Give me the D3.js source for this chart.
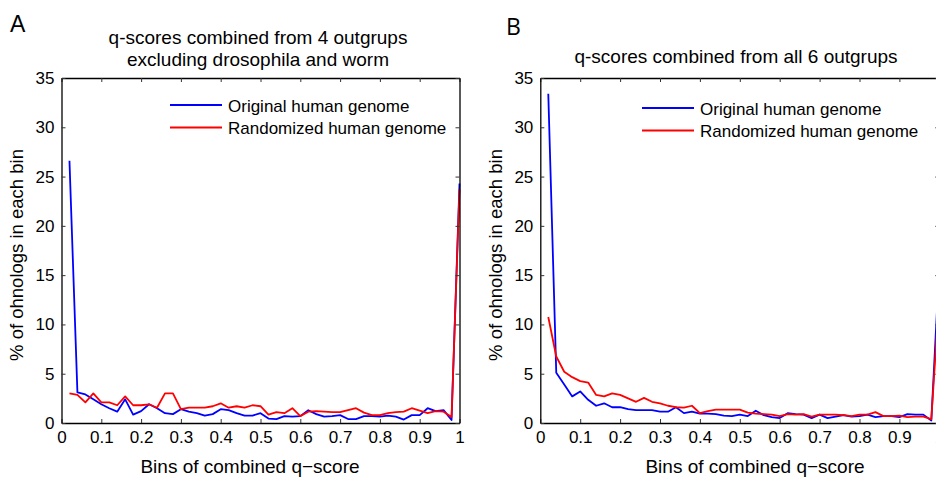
<!DOCTYPE html>
<html><head><meta charset="utf-8">
<script src="https://cdn.jsdelivr.net/npm/d3@7/dist/d3.min.js"></script>
<style>body{margin:0;background:#fff}svg{display:block}text{font-family:"Liberation Sans",Arial,sans-serif;fill:#000}</style>
</head><body><svg id="c" width="936" height="479"></svg>
<script>
const bins = [0.02,0.04,0.06,0.08,0.10,0.12,0.14,0.16,0.18,0.20,0.22,0.24,0.26,0.28,0.30,0.32,0.34,0.36,0.38,0.40,0.42,0.44,0.46,0.48,0.50,0.52,0.54,0.56,0.58,0.60,0.62,0.64,0.66,0.68,0.70,0.72,0.74,0.76,0.78,0.80,0.82,0.84,0.86,0.88,0.90,0.92,0.94,0.96,0.98,1.00];
const origA = [26.6,3.1,2.9,2.4,1.9,1.5,1.15,2.4,0.85,1.2,1.9,1.5,1.0,0.9,1.4,1.15,1.0,0.75,0.9,1.4,1.3,1.0,0.75,0.75,1.0,0.45,0.4,0.7,0.65,0.7,1.3,0.9,0.65,0.7,0.8,0.4,0.4,0.7,0.7,0.65,0.75,0.65,0.35,0.8,0.8,1.5,1.2,1.3,0.3,24.3];
const randA = [3.0,2.85,2.1,3.0,2.1,2.1,1.8,2.7,1.8,1.8,1.9,1.55,3.0,3.0,1.4,1.55,1.55,1.55,1.7,2.0,1.55,1.7,1.55,1.8,1.7,0.85,1.1,1.0,1.5,0.7,1.15,1.2,1.15,1.1,1.1,1.3,1.5,1.05,0.8,0.8,1.0,1.1,1.15,1.5,1.25,1.0,1.2,1.15,0.6,23.7];
const origB = [33.4,5.1,3.9,2.7,3.2,2.35,1.75,2.0,1.6,1.6,1.4,1.3,1.3,1.3,1.15,1.15,1.6,1.0,1.15,0.95,0.95,0.9,0.75,0.7,0.85,0.7,1.25,0.8,0.6,0.5,1.0,0.9,0.85,0.5,0.85,0.5,0.65,0.8,0.65,0.7,0.85,0.6,0.7,0.7,0.6,0.9,0.85,0.85,0.25,16];
const randB = [10.75,6.75,5.2,4.65,4.25,4.1,2.85,2.7,3.0,2.85,2.5,2.15,2.55,2.15,2.0,1.75,1.6,1.55,1.75,1.0,1.2,1.35,1.35,1.35,1.35,1.05,0.95,0.9,0.85,0.7,0.9,0.85,0.9,0.65,0.85,0.85,0.85,0.8,0.7,0.85,0.85,1.1,0.7,0.7,0.75,0.6,0.65,0.65,0.4,13];
const xTicks = [0,0.1,0.2,0.3,0.4,0.5,0.6,0.7,0.8,0.9,1];
const yTicks = [0,5,10,15,20,25,30,35];
const seriesNames = ["Original human genome","Randomized human genome"];
const seriesColors = ["#0000ff","#ff0000"];

const svg = d3.select("#c");
svg.append("rect").attr("width",936).attr("height",479).attr("fill","#fff");

const panels = [
  {letter:"A", lx:10, ly:32, font:"Liberation Sans, Arial, sans-serif", title:["q-scores combined from 4 outgrups","excluding drosophila and worm"], tx:258, ty:[44,66],
   x0:61.5, x1:459.5, orig:origA, rand:randA, legX:170, legY:105, ylabX:23, xlabX:250},
  {letter:"B", lx:506, ly:35, font:"Open Sans, sans-serif", title:["q-scores combined from all 6 outgrups"], tx:736, ty:[63],
   x0:540.3, x1:939.3, orig:origB, rand:randB, legX:642, legY:108, ylabX:502, xlabX:755}
];

panels.forEach(p => {
  const x = d3.scaleLinear().domain([0,1]).range([p.x0,p.x1]);
  const y = d3.scaleLinear().domain([0,35]).range([423,78]);
  const g = svg.append("g");

  const line = d3.line().x((d,i)=>x(bins[i])).y(d=>y(d));
  [p.orig,p.rand].forEach((s,k)=>{
    g.append("path").datum(s).attr("d",line).attr("fill","none")
     .attr("stroke",seriesColors[k]).attr("stroke-width",1.8).attr("stroke-linejoin","round");
  });

  const tl = 4;
  const axB = d3.axisBottom(x).tickValues(xTicks).tickSizeInner(-tl).tickSizeOuter(0).tickPadding(8).tickFormat(d3.format("~g"));
  const axT = d3.axisTop(x).tickValues(xTicks).tickSizeInner(-tl).tickSizeOuter(0).tickFormat("");
  const axL = d3.axisLeft(y).tickValues(yTicks).tickSizeInner(-tl).tickSizeOuter(0).tickPadding(7);
  const axR = d3.axisRight(y).tickValues(yTicks).tickSizeInner(-tl).tickSizeOuter(0).tickFormat("");
  const style = s => { s.select(".domain").attr("stroke","#000").attr("stroke-width",1.3);
    s.selectAll(".tick line").attr("stroke","#333");
    s.selectAll("text").attr("font-size",17).attr("font-family","Liberation Sans, Arial, sans-serif").attr("fill","#000"); };
  g.append("g").attr("transform","translate(0,423)").call(axB).call(style);
  g.append("g").attr("transform","translate(0,78)").call(axT).call(style);
  g.append("g").attr("transform",`translate(${p.x0},0)`).call(axL).call(style);
  g.append("g").attr("transform",`translate(${p.x1},0)`).call(axR).call(style);

  svg.append("text").attr("x",p.lx).attr("y",p.ly).attr("font-size",23).style("font-family",p.font).text(p.letter);
  p.title.forEach((t,i)=>svg.append("text").attr("x",p.tx).attr("y",p.ty[i]).attr("text-anchor","middle").attr("font-size",19).text(t));
  svg.append("text").attr("transform",`translate(${p.ylabX},${255}) rotate(-90)`).attr("text-anchor","middle").attr("font-size",18.5).text("% of ohnologs in each bin");
  svg.append("text").attr("x",p.xlabX).attr("y",473).attr("text-anchor","middle").attr("font-size",19).text("Bins of combined q\u2212score");
  seriesNames.forEach((n,k)=>{
    const ly = p.legY + k*22.5;
    svg.append("line").attr("x1",p.legX).attr("x2",p.legX+52).attr("y1",ly).attr("y2",ly).attr("stroke",seriesColors[k]).attr("stroke-width",1.8);
    svg.append("text").attr("x",p.legX+58).attr("y",ly+6.5).attr("font-size",17).text(n);
  });
});
</script></body></html>
